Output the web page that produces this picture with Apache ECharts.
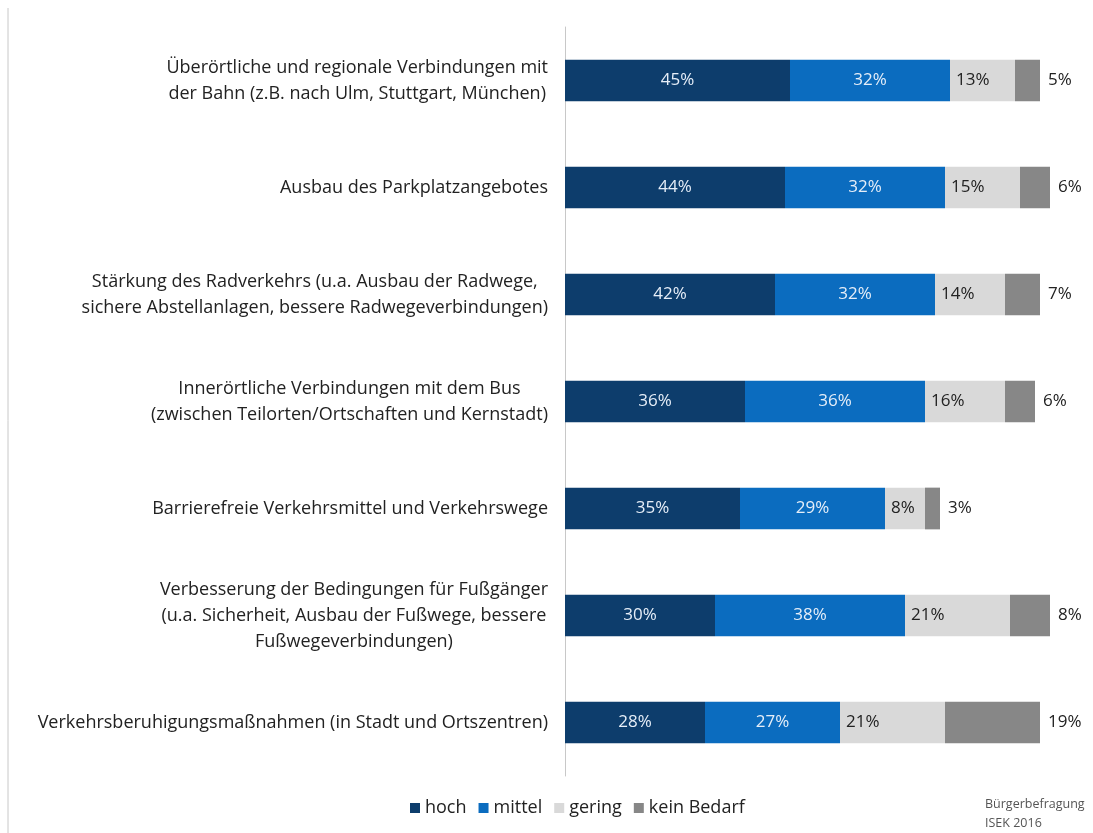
<!DOCTYPE html>
<html>
<head>
<meta charset="utf-8">
<script src="https://cdn.jsdelivr.net/npm/echarts@6/dist/echarts.min.js"></script>
<style>
  html, body { margin: 0; padding: 0; background: #fff; }
  #chart { width: 1093px; height: 833px; }
</style>
</head>
<body>
<div id="chart"></div>
<script>
const categories = [
  'Überörtliche und regionale Verbindungen mit\nder Bahn (z.B. nach Ulm, Stuttgart, München)',
  'Ausbau des Parkplatzangebotes',
  'Stärkung des Radverkehrs (u.a. Ausbau der Radwege,\nsichere Abstellanlagen, bessere Radwegeverbindungen)',
  'Innerörtliche Verbindungen mit dem Bus\n(zwischen Teilorten/Ortschaften und Kernstadt)',
  'Barrierefreie Verkehrsmittel und Verkehrswege',
  'Verbesserung der Bedingungen für Fußgänger\n(u.a. Sicherheit, Ausbau der Fußwege, bessere\nFußwegeverbindungen)',
  'Verkehrsberuhigungsmaßnahmen (in Stadt und Ortszentren)'
]
const hoch = [45, 44, 42, 36, 35, 30, 28]
const mittel = [32, 32, 32, 36, 29, 38, 27]
const gering = [13, 15, 14, 16, 8, 21, 21]
const keinBedarf = [5, 6, 7, 6, 3, 8, 19]

const font = '"Open Sans", "Noto Sans", sans-serif'
const myChart = echarts.init(document.getElementById('chart'))

// one series per answer, label position differs for the light and last segments
function barSeries (name, data, color, labelPos, labelColor) {
  return {
    name: name,
    type: 'bar',
    stack: 'total',
    barWidth: '39%',
    data: data,
    itemStyle: { color: color },
    label: {
      show: true,
      position: labelPos,
      distance: labelPos === 'right' ? 8 : 6,
      formatter: '{c}%',
      color: labelColor,
      fontFamily: font,
      fontSize: 17
    }
  }
}

const option = {
  animation: false,
  backgroundColor: '#fff',
  textStyle: { fontFamily: font },
  grid: { left: 565, right: 28, top: 27, bottom: 57 },
  legend: {
    left: 405,
    top: 794,
    icon: 'rect',
    itemWidth: 10,
    itemHeight: 10,
    itemGap: 12,
    textStyle: { fontSize: 18, color: '#222', fontFamily: font }
  },
  xAxis: {
    type: 'value',
    min: 0,
    max: 100,
    show: false
  },
  yAxis: {
    type: 'category',
    inverse: true,
    data: categories,
    axisLine: { show: true, lineStyle: { color: '#c8c8c8', width: 1 } },
    axisTick: { show: false },
    axisLabel: {
      margin: 17,
      color: '#222',
      fontSize: 18,
      lineHeight: 26,
      fontFamily: font,
      formatter: function (v) {
        return v.split('\n').map(s => '{c|' + s + '}').join('\n')
      },
      rich: {
        c: { align: 'center', fontSize: 18, lineHeight: 26, color: '#222', fontFamily: font }
      }
    }
  },
  graphic: [
    {
      type: 'line',
      shape: { x1: 8, y1: 8, x2: 8, y2: 833 },
      style: { stroke: '#c8c8c8', lineWidth: 1 }
    },
    {
      type: 'text',
      left: 985,
      top: 795,
      style: {
        text: 'Bürgerbefragung\nISEK 2016',
        fontSize: 12.5,
        lineHeight: 19,
        fill: '#555',
        fontFamily: font
      }
    }
  ],
  series: [
    barSeries('hoch', hoch, '#0d3d6c', 'inside', '#e6eef8'),
    barSeries('mittel', mittel, '#0b6cbf', 'inside', '#e6eef8'),
    barSeries('gering', gering, '#d9d9d9', 'insideLeft', '#222'),
    barSeries('kein Bedarf', keinBedarf, '#878787', 'right', '#222')
  ]
}

option && myChart.setOption(option)
</script>
</body>
</html>
